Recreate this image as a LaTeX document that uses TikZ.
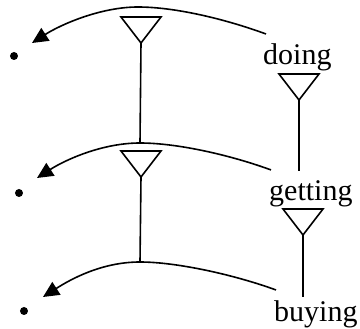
\documentclass[tikz,border=0pt]{standalone}
\usepackage{fontspec}
\setmainfont{Liberation Serif}
\usepackage{tikz}
\usetikzlibrary{arrows.meta,calc,positioning}
\tikzset{
  word/.style={anchor=base west,inner sep=0pt,font=\fontsize{30}{36}\selectfont},
  pt/.style={circle,fill=black,inner sep=0pt,minimum size=8pt},
  arc/.style={line width=1.6pt,-{Triangle[length=16pt,width=15pt]}},
  tri/.pic={\draw[line width=1.6pt] (0,0) -- (-20,-26) -- (20,-26) -- cycle;}
}

\begin{document}
\begin{tikzpicture}[x=1pt,y=-1pt]
  \useasboundingbox (0,0) rectangle (360,329);
  % 単語
  \node[word] (w1) at (263,65) {doing};
  \node[word] (w2) at (269,201) {getting};
  \node[word] (w3) at (274,322) {buying};
  % 点
  \node[pt] (d1) at (14,56) {};
  \node[pt] (d2) at (19,193) {};
  \node[pt] (d3) at (24,311) {};
  % 弧の頂点と三角の頂点
  \coordinate (p1) at (138,7);
  \coordinate (p2) at (140,143);
  \coordinate (p3) at (140,262);
  \coordinate (t1) at (141,43);
  \coordinate (t2) at (141,177);
  \coordinate (t3) at (299,100);
  \coordinate (t4) at (303,235);
  % 弧
  \draw[arc] ($(w1.north west)+(3,-10)$) .. controls +(-41,-15) and +(37,0) .. (p1)
    .. controls +(-38,0) and +(28,-18) .. ($(d1)+(18,-13)$);
  \draw[arc] ($(w2.north west)+(2,-11)$) .. controls +(-41,-15) and +(37,0) .. (p2)
    .. controls +(-38,0) and +(28,-18) .. ($(d2)+(18,-15)$);
  \draw[arc] ($(w3.north west)+(2,-11)$) .. controls +(-41,-15) and +(37,0) .. (p3)
    .. controls +(-38,0) and +(28,-18) .. ($(d3)+(19,-14)$);
  % 三角と線
  \foreach \t in {t1,t2,t3,t4}
    \pic at (\t) {tri};
  \draw[line width=1.6pt] (t1) -- (p2);
  \draw[line width=1.6pt] (t2) -- (p3);
  \draw[line width=1.6pt,shorten >=10pt] (t3) -- (t3 |- w2.north);
  \draw[line width=1.6pt,shorten >=4pt] (t4) -- (t4 |- w3.north);
\end{tikzpicture}
\end{document}
